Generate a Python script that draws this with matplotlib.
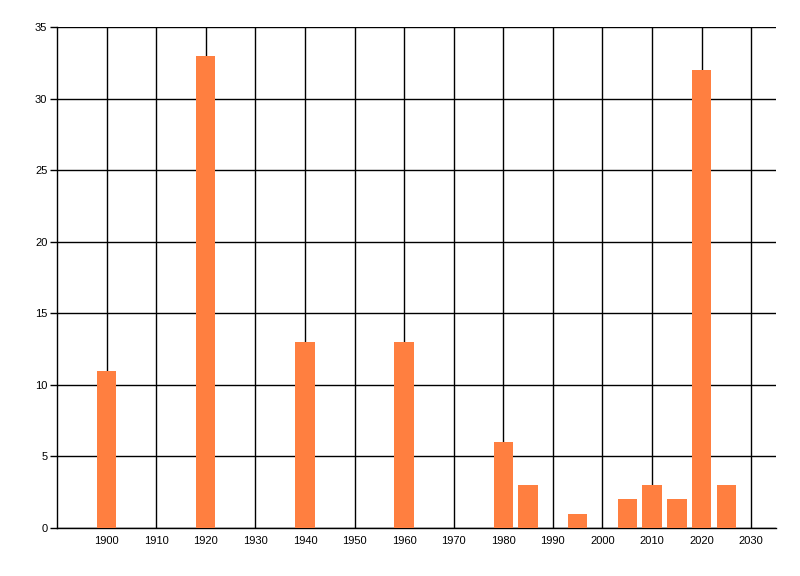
import matplotlib
matplotlib.use("Agg")
import matplotlib.pyplot as plt

plt.rcParams["font.family"] = ["Liberation Sans", "DejaVu Sans"]

BAR_COLOR = "#FF7F40"

years = [1900, 1920, 1940, 1960, 1980, 1985, 1995, 2005, 2010, 2015, 2020, 2025]
counts = [11, 33, 13, 13, 6, 3, 1, 2, 3, 2, 32, 3]
x_ticks = list(range(1900, 2031, 10))
y_ticks = list(range(0, 36, 5))

fig = plt.figure(figsize=(8, 5.76), dpi=100, facecolor="white")
ax = fig.add_axes([0.0713, 0.0833, 0.8987, 0.8698])

ax.bar(years, counts, width=3.9, color=BAR_COLOR, zorder=3)

ax.set_xlim(1890, 2035)
ax.set_ylim(0, 35)
ax.set_xticks(x_ticks)
ax.set_yticks(y_ticks)
ax.grid(True, color="black", linewidth=1, zorder=1)
ax.set_axisbelow(True)

for side in ["top", "right"]:
    ax.spines[side].set_visible(False)
for side in ["left", "bottom"]:
    ax.spines[side].set_color("black")
    ax.spines[side].set_linewidth(1)

ax.tick_params(axis="x", length=0, pad=6, labelsize=8, colors="black")
ax.tick_params(axis="y", length=5, width=1, pad=2, labelsize=8, colors="black")

fig.savefig("out.png", dpi=100, facecolor="white")
